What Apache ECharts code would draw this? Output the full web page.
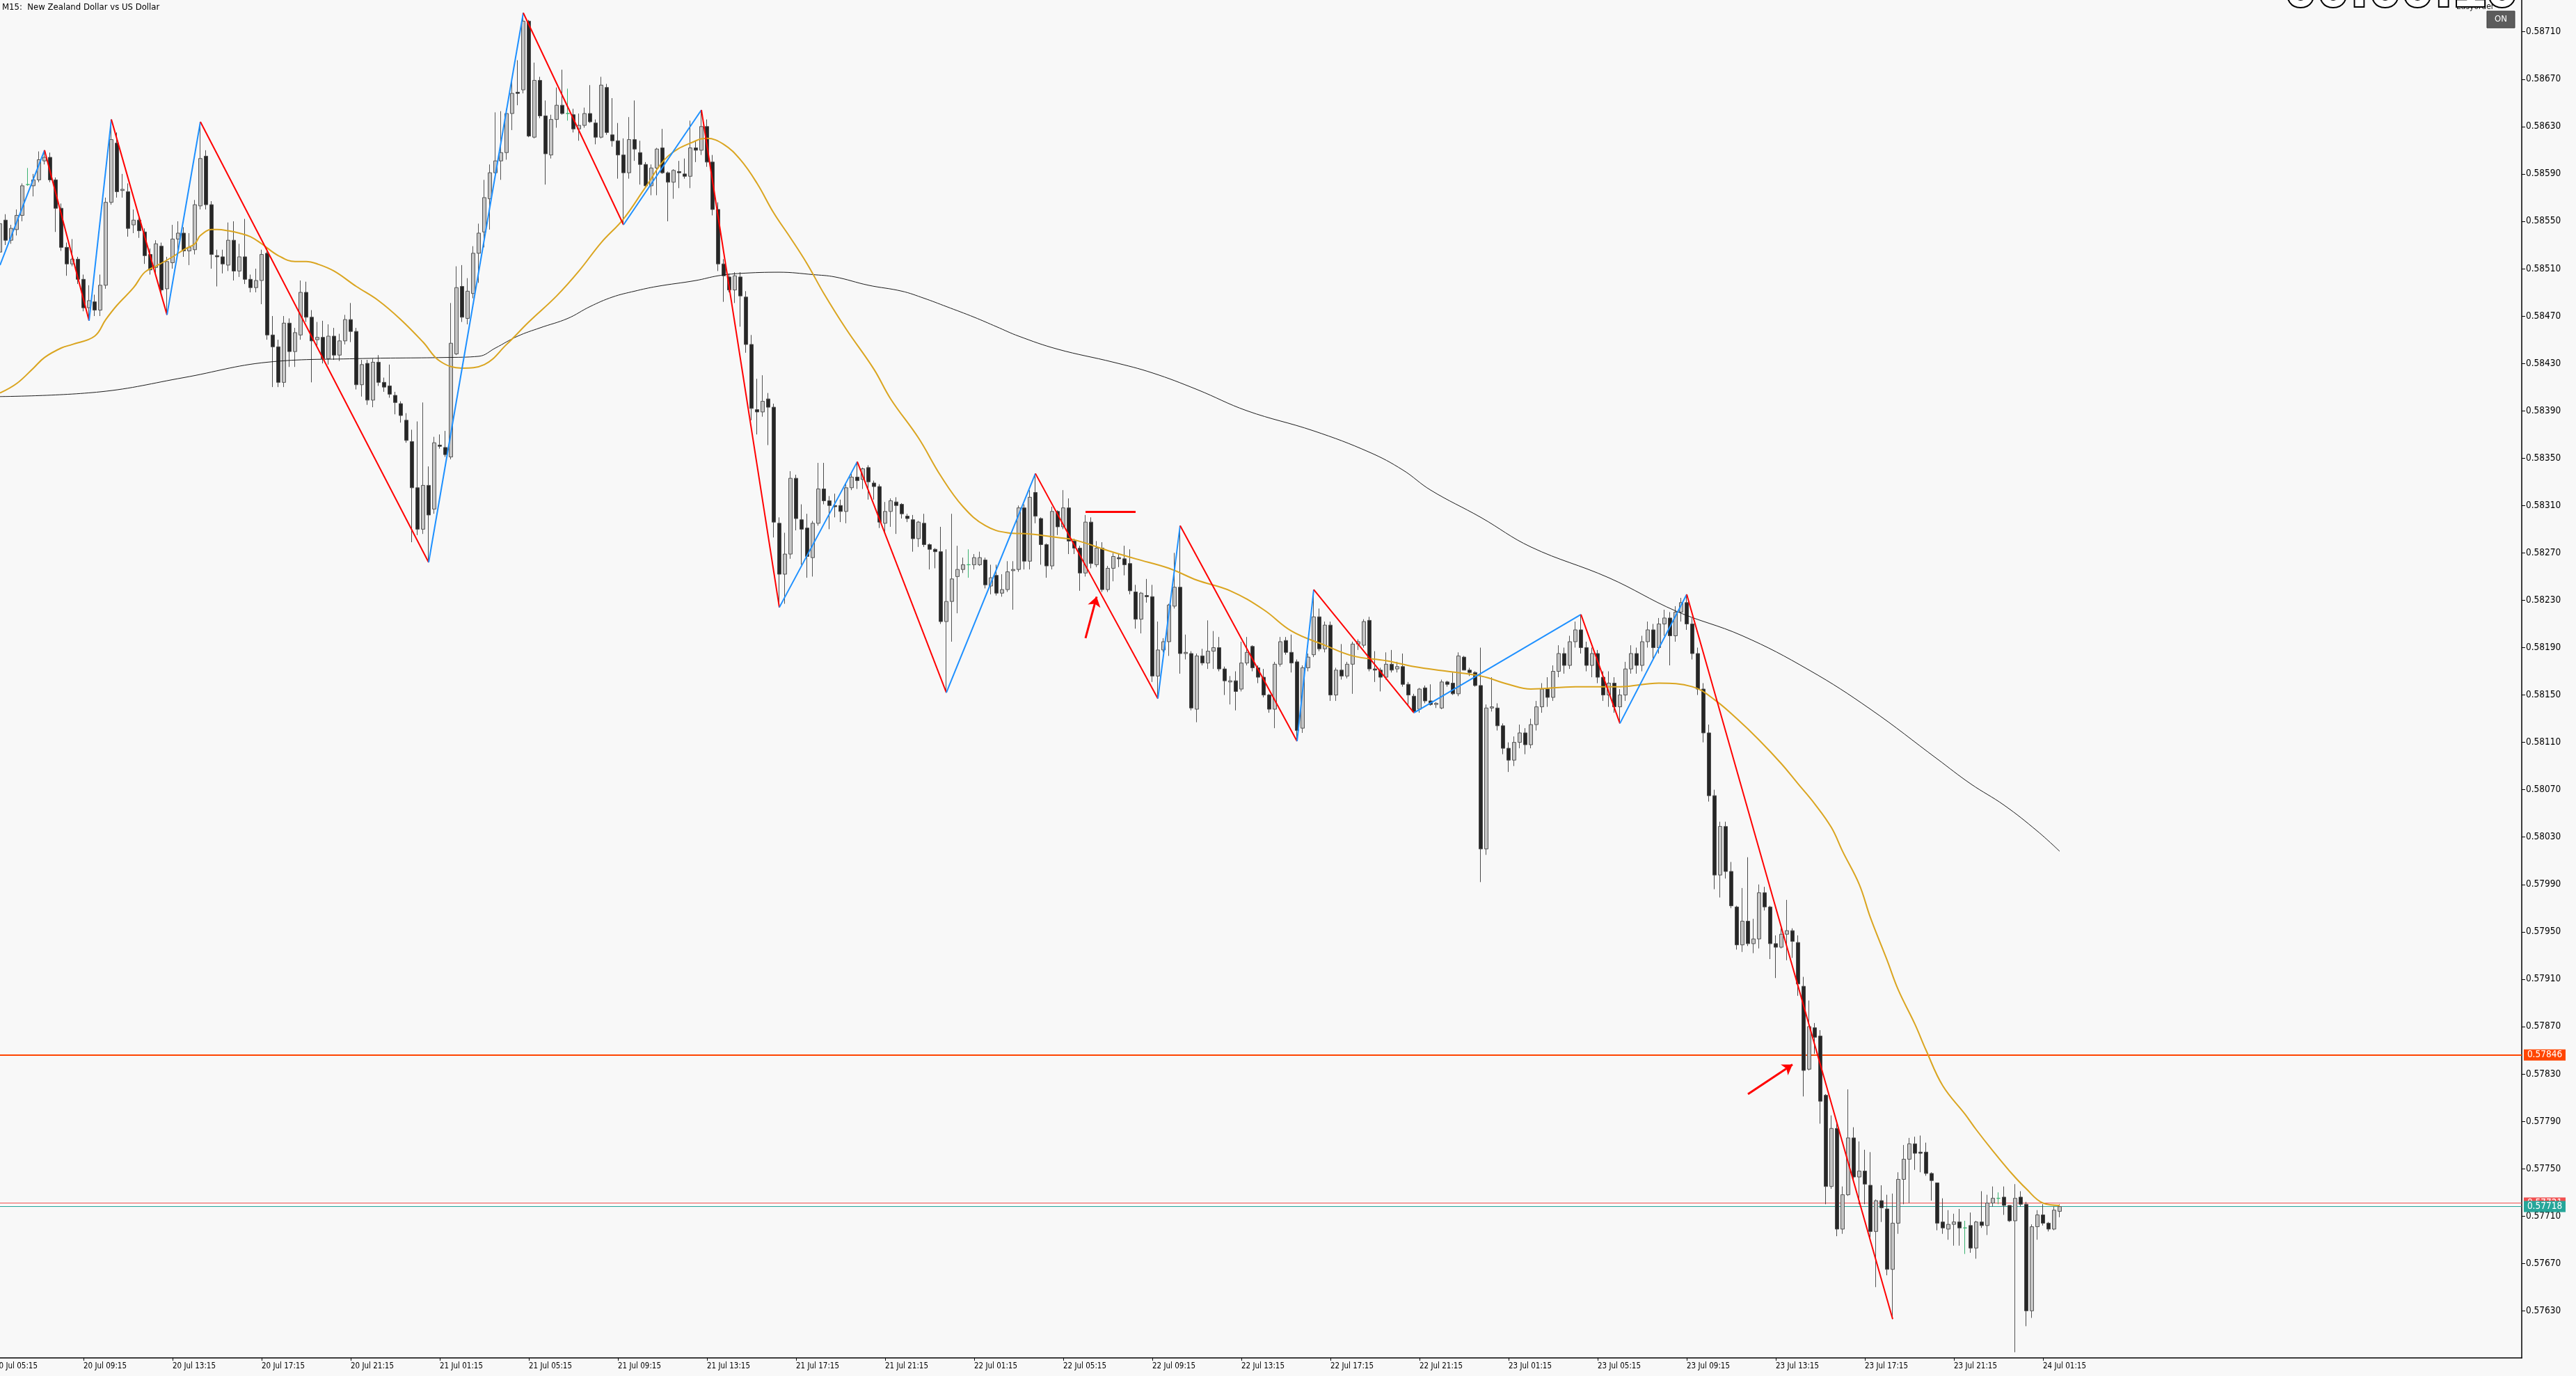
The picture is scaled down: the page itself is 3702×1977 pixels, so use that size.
<!DOCTYPE html>
<html>
<head>
<meta charset="utf-8">
<title>NZDUSD M15</title>
<script src="https://cdn.jsdelivr.net/npm/echarts@6.0.0/dist/echarts.min.js"></script>
<style>
html,body{margin:0;padding:0;background:#f8f8f8;overflow:hidden;}
#chart{width:3702px;height:1977px;}
</style>
</head>
<body>
<div id="chart"></div>
<script>
// ================= DATA =================
const POINT = 0.00001;                        // all prices below are in points (1e-5)
const firstBarTime = Date.UTC(2020, 6, 20, 5, 30); // first candle: 20 Jul 05:30
const barMinutes = 15;
const categoryCount = 454;

const tickLabels = ['20 Jul 05:15','20 Jul 09:15','20 Jul 13:15','20 Jul 17:15','20 Jul 21:15',
  '21 Jul 01:15','21 Jul 05:15','21 Jul 09:15','21 Jul 13:15','21 Jul 17:15','21 Jul 21:15',
  '22 Jul 01:15','22 Jul 05:15','22 Jul 09:15','22 Jul 13:15','22 Jul 17:15','22 Jul 21:15',
  '23 Jul 01:15','23 Jul 05:15','23 Jul 09:15','23 Jul 13:15','23 Jul 17:15','23 Jul 21:15',
  '24 Jul 01:15'];

const priceTicks = [57630,57670,57710,57750,57790,57830,57870,57910,57950,57990,58030,58070,58110,58150,
  58190,58230,58270,58310,58350,58390,58430,58470,58510,58550,58590,58630,58670,58710];

// candles per day: [open, high, low, close]
const jul20 = [
[58524,58570,58518,58548],[58551,58556,58530,58534],[58534,58547,58531,58544],[58543,58560,58538,58555],[58555,58582,58550,58580],
[58581,58595,58580,58581],[58580,58590,58571,58585],[58585,58609,58583,58602],[58601,58610,58598,58604],[58604,58608,58583,58585],
[58585,58587,58541,58561],[58561,58565,58525,58528],[58528,58532,58504,58514],[58514,58535,58512,58518],[58518,58520,58497,58501],
[58501,58505,58474,58477],[58477,58496,58466,58483],[58482,58488,58470,58475],[58475,58505,58470,58496],[58496,58570,58493,58566],
[58566,58636,58564,58619],[58616,58625,58570,58575],[58576,58590,58570,58577],[58575,58582,58537,58544],[58547,58560,58540,58551],
[58551,58555,58536,58542],[58541,58544,58514,58521],[58522,58527,58505,58509],[58511,58534,58506,58531],[58529,58532,58488,58492],
[58493,58520,58471,58516],[58515,58547,58510,58535],[58535,58550,58525,58540],[58540,58545,58520,58525],[58525,58540,58513,58528],
[58526,58568,58522,58564],[58563,58634,58560,58603],[58605,58610,58560,58564],[58564,58567,58510,58522],[58521,58526,58495,58520],
[58520,58526,58506,58514],[58513,58549,58508,58534],[58534,58550,58500,58508],[58508,58531,58503,58520],[58520,58552,58497,58501],
[58501,58505,58490,58494],[58494,58510,58490,58500],[58500,58526,58480,58522],[58523,58528,58450,58454],[58454,58470,58410,58444],
[58444,58450,58410,58414],[58414,58470,58410,58464],[58464,58468,58427,58440],[58440,58460,58427,58456],[58454,58500,58450,58490],
[58490,58499,58465,58469],[58469,58475,58414,58449],[58450,58465,58445,58452],[58452,58466,58430,58434],[58434,58463,58429,58453],
[58453,58460,58433,58437],[58437,58455,58432,58449],[58449,58471,58446,58467],[58467,58481,58448,58457],[58457,58460,58408,58412],
[58412,58433,58402,58429],[58430,58433,58395,58399],[58399,58434,58393,58431],[58431,58437,58411,58414],[58414,58418,58406,58410],
[58411,58429,58401,58404],[58403,58406,58387,58397],[58396,58398,58380,58386],[58382,58388,58363,58365]
];
const jul21 = [
[58364,58374,58279,58325],[58325,58381,58285,58290],[58290,58397,58286,58327],[58327,58343,58262,58302],[58307,58368,58303,58363],[58361,58370,58358,58360],
[58359,58373,58351,58353],[58351,58481,58349,58447],[58438,58512,58437,58494],[58495,58513,58465,58469],[58468,58502,58463,58491],
[58489,58529,58485,58523],[58523,58548,58498,58540],[58541,58585,58528,58570],[58569,58598,58543,58591],[58591,58642,58590,58601],
[58601,58643,58585,58608],[58608,58645,58602,58641],[58641,58671,58627,58658],[58659,58686,58648,58658],[58661,58726,58658,58719],
[58719,58720,58621,58622],[58621,58684,58620,58669],[58669,58672,58637,58639],[58639,58652,58581,58607],[58606,58640,58603,58636],
[58636,58663,58629,58648],[58648,58678,58640,58641],[58641,58662,58635,58641],[58640,58645,58625,58628],[58628,58641,58618,58631],
[58631,58646,58629,58641],[58641,58665,58633,58634],[58633,58636,58615,58621],[58621,58672,58620,58665],[58663,58666,58623,58625],
[58623,58654,58613,58618],[58618,58633,58586,58606],[58606,58620,58547,58591],[58591,58638,58586,58619],[58619,58652,58601,58611],
[58608,58618,58581,58598],[58598,58600,58579,58580],[58580,58598,58572,58595],[58595,58612,58572,58611],[58612,58628,58590,58591],
[58591,58592,58550,58583],[58583,58594,58569,58593],[58592,58601,58578,58591],[58590,58603,58586,58588],[58588,58635,58578,58612],
[58612,58618,58600,58610],[58610,58644,58606,58630],[58630,58636,58596,58600],[58600,58606,58555,58560],[58560,58566,58508,58514],
[58514,58518,58482,58504],[58503,58506,58490,58492],[58492,58507,58481,58504],[58503,58507,58461,58487],[58486,58491,58439,58446],
[58446,58454,58382,58392],[58391,58417,58370,58389],[58389,58420,58385,58398],[58400,58405,58361,58393],[58393,58396,58283,58296],
[58295,58300,58224,58252],[58252,58287,58227,58269],[58269,58339,58265,58333],[58333,58336,58289,58299],[58298,58311,58260,58290],
[58291,58303,58249,58267],[58266,58297,58250,58295],[58295,58346,58293,58324],[58324,58346,58311,58314],[58314,58318,58290,58310],
[58310,58320,58300,58309],[58310,58315,58296,58305],[58305,58329,58295,58325],[58325,58337,58323,58334],[58334,58347,58324,58331],
[58332,58342,58324,58341],[58342,58344,58315,58330],[58329,58331,58315,58326],[58326,58328,58291,58296],[58295,58313,58287,58305],
[58305,58316,58292,58314],[58313,58317,58286,58310],[58311,58312,58299,58303],[58301,58303,58296,58299],[58298,58302,58271,58282],
[58282,58297,58275,58296],[58295,58303,58275,58277],[58277,58278,58256,58273],[58273,58274,58257,58271],[58271,58292,58210,58212]
];
const jul22 = [
[58212,58273,58152,58229],[58229,58303,58195,58248],[58250,58276,58219,58256],[58256,58266,58253,58260],[58260,58273,58249,58260],
[58260,58269,58256,58266],[58260,58271,58259,58266],[58264,58266,58240,58243],[58242,58260,58235,58249],[58251,58260,58234,58236],
[58236,58252,58233,58239],[58239,58263,58237,58254],[58255,58263,58222,58256],[58256,58310,58254,58308],[58308,58311,58256,58263],
[58263,58323,58256,58317],[58321,58337,58295,58301],[58299,58300,58260,58277],[58277,58278,58249,58259],[58259,58309,58256,58305],
[58305,58306,58285,58292],[58292,58323,58290,58308],[58308,58316,58269,58280],[58280,58282,58269,58274],[58274,58276,58238,58253],
[58253,58302,58250,58296],[58296,58300,58257,58261],[58260,58280,58258,58274],[58274,58279,58237,58239],[58239,58259,58237,58257],
[58257,58270,58246,58267],[58266,58269,58258,58265],[58265,58276,58251,58260],[58261,58273,58235,58238],[58237,58243,58206,58214],
[58214,58237,58202,58236],[58234,58248,58228,58233],[58233,58243,58161,58166],[58166,58212,58147,58188],[58188,58198,58186,58195],
[58195,58227,58183,58226],[58225,58270,58223,58241],[58241,58293,58168,58185],[58185,58201,58180,58186],[58185,58187,58137,58139],
[58138,58185,58127,58183],[58183,58189,58175,58177],[58177,58213,58172,58187],[58187,58204,58172,58190],[58190,58199,58170,58172],
[58172,58174,58150,58162],[58161,58166,58142,58162],[58162,58170,58137,58153],[58155,58195,58153,58177],[58177,58199,58175,58186],
[58191,58192,58170,58173],[58173,58175,58160,58165],[58165,58172,58148,58150],[58150,58151,58135,58138],[58138,58178,58122,58176],
[58176,58199,58174,58195],[58196,58199,58184,58186],[58186,58201,58169,58177],[58178,58180,58111,58120],[58122,58175,58118,58173],
[58173,58185,58170,58182],[58184,58239,58182,58216],[58216,58223,58187,58189],[58189,58212,58186,58209],[58209,58212,58145,58150],
[58150,58173,58145,58171],[58171,58193,58163,58166],[58166,58178,58164,58176],[58176,58195,58151,58193],[58193,58197,58188,58195],
[58192,58214,58190,58212],[58213,58216,58170,58172],[58172,58187,58161,58171],[58171,58173,58153,58165],[58165,58186,58163,58176],
[58176,58188,58169,58171],[58172,58178,58169,58174],[58174,58185,58157,58159],[58159,58161,58141,58150],[58149,58151,58135,58136],
[58138,58156,58135,58155],[58156,58158,58143,58145],[58145,58159,58141,58142],[58142,58144,58139,58143],[58139,58163,58138,58161],
[58161,58162,58157,58159],[58160,58169,58150,58151],[58151,58186,58149,58183],[58182,58183,58171,58171],[58171,58173,58166,58169],
[58169,58170,58157,58158]
];
const jul23 = [
[58158,58190,57992,58020],[58020,58142,58015,58139],[58139,58165,58136,58140],[58139,58143,58120,58124],
[58124,58126,58100,58105],[58105,58110,58085,58095],[58095,58115,58090,58110],[58110,58125,58105,58118],[58118,58122,58100,58108],
[58108,58130,58105,58125],[58125,58145,58120,58140],[58140,58160,58135,58155],[58155,58165,58140,58148],[58148,58175,58145,58170],
[58170,58192,58165,58185],[58185,58190,58168,58175],[58175,58200,58172,58195],[58195,58212,58190,58205],[58205,58218,58185,58190],
[58190,58195,58170,58175],[58175,58190,58165,58185],[58185,58188,58160,58165],[58165,58170,58145,58150],[58150,58170,58140,58160],
[58160,58165,58135,58140],[58140,58155,58126,58150],[58150,58178,58145,58172],[58172,58192,58168,58185],[58185,58190,58168,58175],
[58175,58200,58170,58195],[58195,58212,58190,58205],[58205,58210,58180,58190],[58190,58215,58185,58210],[58210,58222,58200,58215],
[58215,58220,58175,58200],[58200,58225,58195,58220],[58220,58232,58212,58228],[58228,58235,58205,58210],[58210,58215,58180,58185],
[58185,58190,58150,58155],[58155,58160,58110,58118],[58118,58125,58060,58065],[58065,58070,57986,57998],[57998,58043,57979,58039],
[58039,58043,57995,58001],[58001,58009,57970,57972],[57971,57972,57935,57939],[57939,57987,57933,57959],[57959,58013,57938,57940],
[57940,57961,57932,57944],[57944,57990,57936,57983],[57983,57988,57968,57971],[57971,57972,57927,57940],[57940,57947,57911,57937],
[57937,57953,57936,57948],[57948,57977,57926,57951],[57951,57953,57928,57942],[57941,57947,57896,57906],[57904,57912,57811,57833],
[57834,57892,57833,57870],[57869,57873,57847,57861],[57862,57867,57788,57807],[57812,57813,57720,57735],[57735,57795,57733,57784],
[57784,57790,57693,57699],[57699,57735,57695,57728],[57728,57817,57727,57776],[57776,57785,57740,57743],[57743,57773,57720,57748],
[57748,57766,57720,57737],[57736,57764,57692,57697],[57697,57724,57650,57723],[57723,57736,57705,57717],[57716,57728,57660,57665],
[57665,57729,57623,57704],[57704,57747,57695,57741],[57741,57770,57720,57758],[57758,57776,57721,57771],[57771,57777,57749,57763],
[57764,57778,57747,57763],[57764,57772,57744,57746],[57746,57747,57723,57740],[57738,57738,57698,57704],[57705,57725,57695,57700],
[57699,57715,57690,57703],[57703,57712,57685,57705],[57705,57716,57685,57700],[57700,57706,57678,57700],[57702,57713,57679,57683],
[57683,57706,57674,57705],[57705,57731,57700,57702],[57702,57728,57694,57721],[57721,57735,57718,57725],[57725,57730,57720,57725],
[57726,57735,57711,57719],[57719,57719,57705,57706]
];
const jul24 = [
[57706,57737,57595,57725],[57726,57731,57718,57720],[57720,57722,57617,57630],[57630,57703,57624,57701],[57701,57715,57690,57711],
[57711,57720,57702,57704],[57704,57705,57697,57699],[57699,57718,57698,57715],[57714,57720,57709,57718]
];

// ZigZag pivots (bar index from first candle, price in points)
const zigzagBars   = [0, 8, 16, 20, 30, 36, 77, 94, 112, 126, 140, 154, 170, 186, 208, 212, 233, 236, 254, 284, 291, 303, 340];
const zigzagPrices = [58513, 58610, 58466, 58636, 58471, 58634, 58262, 58726, 58547, 58644, 58224, 58347, 58152, 58337,
                      58147, 58293, 58111, 58239, 58135, 58218, 58126, 58235, 57623];

// moving averages (bar index, price in points)
const maFastBars = [0,3,6,8,11,13,17,19,21,24,26,28,31,33,35,36,38,39,41,43,45,47,50,53,55,57,60,64,68,72,76,79,83,87,91,95,
  100,104,108,112,116,120,125,127,130,133,136,139,142,145,148,152,157,160,165,169,173,177,181,185,190,193,199,204,210,215,221,
  227,232,238,243,249,254,260,266,271,275,283,291,298,304,308,312,316,320,323,326,329,331,334,336,339,341,344,346,349,353,355,
  358,361,364,367,370];
const maFastVals = [58405,58413,58426,58435,58443,58446,58453,58467,58479,58494,58507,58512,58520,58526,58531,58538,58543,58543,
  58542,58540,58537,58531,58521,58516,58516,58514,58508,58495,58483,58467,58448,58432,58426,58429,58446,58465,58487,58508,58532,
  58552,58579,58605,58618,58620,58615,58602,58582,58557,58536,58514,58489,58459,58425,58400,58367,58335,58309,58293,58287,58286,
  58283,58281,58272,58265,58257,58247,58238,58222,58204,58192,58183,58179,58174,58170,58166,58159,58155,58157,58157,58160,58157,
  58146,58130,58112,58092,58075,58058,58038,58018,57990,57962,57926,57901,57872,57850,57820,57796,57783,57765,57748,57733,57721,57719];
const maSlowBars = [0,18,33,48,64,80,86,89,93,97,102,106,110,114,118,125,129,133,140,146,150,156,162,166,170,175,179,183,190,
  200,207,215,224,236,246,252,257,266,275,289,301,313,325,336,348,354,360,366,370];
const maSlowVals = [58402,58406,58418,58431,58434,58435,58436,58443,58453,58460,58468,58478,58486,58491,58495,58500,58504,58506,
  58507,58505,58503,58496,58491,58485,58478,58469,58461,58453,58442,58431,58422,58408,58390,58373,58355,58340,58323,58300,58275,
  58249,58221,58200,58171,58138,58096,58075,58057,58035,58018];

// horizontal price levels (points) and their colours
const levelPrices = [57846, 57721, 57718];
const levelColors = ['#ff4500', '#f05050', '#26a69a'];
const levelWidths = [2, 1, 1];
// drawn objects: [bar, price] pairs
const markerLine = [[194.5, 58304.5], [203.5, 58304.5]];
const arrowA = [[194.5, 58198], [197.4, 58233]];
const arrowB = [[314.4, 57813], [321.9, 57838]];

// ================= BUILD =================
const candles = [].concat(jul20, jul21, jul22, jul23, jul24);
const MON = ['Jan','Feb','Mar','Apr','May','Jun','Jul','Aug','Sep','Oct','Nov','Dec'];
const pad = n => (n < 10 ? '0' : '') + n;
const fmtTime = ms => { const d = new Date(ms);
  return d.getUTCDate() + ' ' + MON[d.getUTCMonth()] + ' ' + pad(d.getUTCHours()) + ':' + pad(d.getUTCMinutes()); };
const categories = [];
for (let k = 0; k < categoryCount; k++) categories.push(fmtTime(firstBarTime + k * barMinutes * 60000));
const tickSet = new Set(tickLabels);
const P = v => v * POINT;

const DOJI = '#3cb371';
const candleData = candles.map(c => {
  const v = [P(c[0]), P(c[3]), P(c[2]), P(c[1])];
  if (c[0] === c[3]) {
    return { value: v, itemStyle: { color: DOJI, color0: DOJI, borderColor: DOJI, borderColor0: DOJI } };
  }
  return v;
});

const legs = [];
for (let k = 0; k < zigzagBars.length - 1; k++) {
  const a = [zigzagBars[k], P(zigzagPrices[k])];
  const b = [zigzagBars[k + 1], P(zigzagPrices[k + 1])];
  legs.push({ coords: [a, b], lineStyle: { color: b[1] < a[1] ? '#ff0000' : '#1e90ff' } });
}
const toXY = pts => pts.map(p => [p[0], P(p[1])]);
const levelData = levelPrices.map((v, i) => ({
  coords: [[0, P(v)], [categoryCount - 1, P(v)]],
  lineStyle: { color: levelColors[i], width: levelWidths[i] }
}));

const FONT = '"DejaVu Sans Condensed", "DejaVu Sans", sans-serif';
const Y_MIN = 0.5759023, Y_MAX = 0.5873686;

const chart = echarts.init(document.getElementById('chart'), null, { renderer: 'canvas' });
chart.setOption({
  backgroundColor: '#f8f8f8',
  animation: false,
  grid: { left: 0, top: 0, width: 3624, height: 1951, containLabel: false },
  xAxis: {
    type: 'category', data: categories, boundaryGap: false,
    axisLine: { lineStyle: { color: '#000', width: 1.5 } },
    axisTick: { show: true, length: 4, interval: (i, v) => tickSet.has(v), lineStyle: { color: '#000' } },
    axisLabel: { interval: (i, v) => tickSet.has(v), align: 'left', margin: 6, color: '#000',
      fontSize: 11.5, fontFamily: FONT },
    splitLine: { show: false }
  },
  yAxis: {
    type: 'value', position: 'right', min: Y_MIN, max: Y_MAX, scale: true,
    axisLine: { show: true, lineStyle: { color: '#000', width: 1.5 } },
    axisTick: { show: true, length: 5, customValues: priceTicks.map(P), lineStyle: { color: '#000' } },
    axisLabel: { customValues: priceTicks.map(P), formatter: v => v.toFixed(5), margin: 6, color: '#000',
      fontSize: 13.5, fontFamily: FONT },
    splitLine: { show: false }
  },
  series: [
    {
      type: 'candlestick', data: candleData, barWidth: 5, z: 2,
      itemStyle: { color: '#c4c4c4', color0: '#262626', borderColor: '#555555', borderColor0: '#4a4a4a', borderWidth: 1 }
    },
    { type: 'lines', coordinateSystem: 'cartesian2d', data: levelData, lineStyle: { opacity: 1 }, z: 1, silent: true },
    { type: 'line', data: maSlowBars.map((b, i) => [b, P(maSlowVals[i])]), smooth: 0.4, symbol: 'none',
      lineStyle: { color: '#1a1a1a', width: 1 }, z: 3 },
    { type: 'line', data: maFastBars.map((b, i) => [b, P(maFastVals[i])]), smooth: 0.4, symbol: 'none',
      lineStyle: { color: '#daa520', width: 2 }, z: 3 },
    { type: 'lines', coordinateSystem: 'cartesian2d', data: legs, lineStyle: { width: 2, opacity: 1 }, z: 4 },
    { type: 'lines', coordinateSystem: 'cartesian2d', z: 5,
      data: [{ coords: toXY(markerLine) }], lineStyle: { color: '#ff0000', width: 3, opacity: 1 } },
    { type: 'lines', coordinateSystem: 'cartesian2d', z: 5, symbol: ['none', 'arrow'], symbolSize: 14,
      data: [{ coords: toXY(arrowA) }, { coords: toXY(arrowB) }], lineStyle: { color: '#ff0000', width: 3, opacity: 1 } }
  ],
  graphic: [
    { type: 'text', x: 3, y: 4, z: 10, style: { text: 'M15:  New Zealand Dollar vs US Dollar', fill: '#000',
      fontSize: 13, fontFamily: FONT } },
    { type: 'text', x: 3530, y: 4, z: 10, style: { text: 'Easyorder', fill: '#222', fontSize: 12, fontFamily: FONT } },
    { type: 'text', x: 3283, y: -56, z: 11, style: { text: '00:00:10', fill: '#ffffff', stroke: '#000000', lineWidth: 4,
      fontSize: 84, fontWeight: 'bold', fontFamily: 'Liberation Sans, sans-serif' } },
    { type: 'rect', z: 12, shape: { x: 3574, y: 16, width: 40, height: 24 }, style: { fill: '#5c5c5c', stroke: '#3c3c3c', lineWidth: 1 } },
    { type: 'text', x: 3594, y: 28, z: 13, style: { text: 'ON', fill: '#fff', fontSize: 13, fontFamily: FONT,
      align: 'center', verticalAlign: 'middle' } }
  ]
});

// positions derived from the axes
const x0 = chart.convertToPixel({ xAxisIndex: 0 }, 0);
const step = chart.convertToPixel({ xAxisIndex: 0 }, 1) - x0;
const xRight = chart.convertToPixel({ xAxisIndex: 0 }, categoryCount - 1);
const yBottom = chart.convertToPixel({ yAxisIndex: 0 }, Y_MIN);
const extra = [];

// tick labels earlier than the first candle (cut by the left edge)
tickLabels.forEach((lbl, n) => {
  if (categories.indexOf(lbl) >= 0) return;
  for (let back = 1; back <= 16; back++) {
    if (fmtTime(firstBarTime - back * barMinutes * 60000) === lbl) {
      extra.push({ type: 'text', id: 'lbl' + n, x: x0 - back * step, y: yBottom + 6, z: 10, silent: true,
        style: { text: lbl, fill: '#000', fontSize: 11.5, fontFamily: FONT, verticalAlign: 'top' } });
      break;
    }
  }
});
// price tags on the right scale
levelPrices.forEach((v, i) => {
  const y = chart.convertToPixel({ yAxisIndex: 0 }, P(v));
  extra.push({ type: 'rect', id: 'tagbox' + i, z: 20 + i * 2, silent: true,
    shape: { x: xRight + 3, y: y - 8, width: 60, height: 16 }, style: { fill: levelColors[i] } });
  extra.push({ type: 'text', id: 'tagtxt' + i, z: 21 + i * 2, silent: true, x: xRight + 33, y: y,
    style: { text: (v * POINT).toFixed(5), fill: '#fff', fontSize: 13.5, fontFamily: FONT, align: 'center', verticalAlign: 'middle' } });
});
chart.setOption({ graphic: extra });
</script>
</body>
</html>
